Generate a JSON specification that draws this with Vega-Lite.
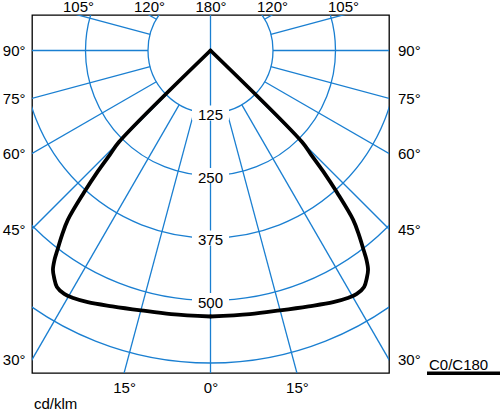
{
  "$schema": "https://vega.github.io/schema/vega-lite/v6.json",
  "width": 357,
  "height": 358,
  "autosize": "none",
  "padding": {"left": 32, "top": 15, "right": 111, "bottom": 36},
  "background": "white",
  "config": {
    "view": {"stroke": "#000", "strokeWidth": 1.3},
    "font": "Liberation Sans",
    "axis": {"grid": false, "ticks": false, "tickSize": 0, "domain": false, "labelFont": "Liberation Sans", "labelFontSize": 15, "labelColor": "#000", "labelFlush": false, "labelOverlap": false}
  },
  "datasets": {
    "circles": [{"r": 125}, {"r": 250}, {"r": 375}, {"r": 500}, {"r": 625}],
    "radials": [
      {"angle": 0, "r0": 0, "r1": 800}, {"angle": 180, "r0": 0, "r1": 800},
      {"angle": 15, "r0": 125, "r1": 800}, {"angle": -15, "r0": 125, "r1": 800},
      {"angle": 30, "r0": 125, "r1": 800}, {"angle": -30, "r0": 125, "r1": 800},
      {"angle": 45, "r0": 125, "r1": 800}, {"angle": -45, "r0": 125, "r1": 800},
      {"angle": 60, "r0": 125, "r1": 800}, {"angle": -60, "r0": 125, "r1": 800},
      {"angle": 75, "r0": 125, "r1": 800}, {"angle": -75, "r0": 125, "r1": 800},
      {"angle": 90, "r0": 125, "r1": 800}, {"angle": -90, "r0": 125, "r1": 800},
      {"angle": 105, "r0": 125, "r1": 800}, {"angle": -105, "r0": 125, "r1": 800},
      {"angle": 120, "r0": 125, "r1": 800}, {"angle": -120, "r0": 125, "r1": 800},
      {"angle": 135, "r0": 125, "r1": 800}, {"angle": -135, "r0": 125, "r1": 800},
      {"angle": 150, "r0": 125, "r1": 800}, {"angle": -150, "r0": 125, "r1": 800},
      {"angle": 165, "r0": 125, "r1": 800}, {"angle": -165, "r0": 125, "r1": 800}
    ],
    "curve": [
      {"side": "C180", "gamma": -90, "I": 0},
      {"side": "C180", "gamma": -45, "I": 259},
      {"side": "C180", "gamma": -44, "I": 290},
      {"side": "C180", "gamma": -43, "I": 330},
      {"side": "C180", "gamma": -41.7, "I": 380},
      {"side": "C180", "gamma": -40.1, "I": 443},
      {"side": "C180", "gamma": -38.8, "I": 474},
      {"side": "C180", "gamma": -37.5, "I": 503},
      {"side": "C180", "gamma": -36.7, "I": 522},
      {"side": "C180", "gamma": -35.7, "I": 540},
      {"side": "C180", "gamma": -34.5, "I": 552},
      {"side": "C180", "gamma": -33, "I": 564},
      {"side": "C180", "gamma": -31, "I": 568},
      {"side": "C180", "gamma": -29, "I": 566},
      {"side": "C180", "gamma": -26, "I": 560},
      {"side": "C180", "gamma": -21, "I": 548},
      {"side": "C180", "gamma": -15, "I": 538},
      {"side": "C180", "gamma": -8.5, "I": 533},
      {"side": "C180", "gamma": 0, "I": 532},
      {"side": "C0", "gamma": 0, "I": 532},
      {"side": "C0", "gamma": 8.5, "I": 533},
      {"side": "C0", "gamma": 15, "I": 538},
      {"side": "C0", "gamma": 21, "I": 548},
      {"side": "C0", "gamma": 26, "I": 560},
      {"side": "C0", "gamma": 29, "I": 566},
      {"side": "C0", "gamma": 31, "I": 568},
      {"side": "C0", "gamma": 33, "I": 564},
      {"side": "C0", "gamma": 34.5, "I": 552},
      {"side": "C0", "gamma": 35.7, "I": 540},
      {"side": "C0", "gamma": 36.7, "I": 522},
      {"side": "C0", "gamma": 37.5, "I": 503},
      {"side": "C0", "gamma": 38.8, "I": 474},
      {"side": "C0", "gamma": 40.1, "I": 443},
      {"side": "C0", "gamma": 41.7, "I": 380},
      {"side": "C0", "gamma": 43, "I": 330},
      {"side": "C0", "gamma": 44, "I": 290},
      {"side": "C0", "gamma": 45, "I": 259},
      {"side": "C0", "gamma": 90, "I": 0}
    ]
  },
  "resolve": {"axis": {"x": "independent", "y": "independent"}},
  "layer": [
    {
      "data": {"name": "circles"},
      "mark": {"type": "arc", "theta": 0, "theta2": 6.2832, "filled": false, "stroke": "#1a7fd1", "strokeWidth": 1.3, "clip": true},
      "encoding": {
        "x": {"datum": 0, "type": "quantitative", "scale": {"domain": [-357, 357], "nice": false, "zero": false}, "axis": null},
        "y": {"datum": 0, "type": "quantitative", "scale": {"domain": [-645, 71], "nice": false, "zero": false}, "axis": null},
        "radius": {"field": "r", "type": "quantitative", "stack": null, "scale": {"type": "linear", "domain": [0, 714], "range": [0, 357], "zero": true, "nice": false}}
      }
    },
    {
      "data": {"name": "radials"},
      "transform": [
        {"calculate": "datum.r0*sin(datum.angle*PI/180)", "as": "xa"},
        {"calculate": "-datum.r0*cos(datum.angle*PI/180)", "as": "ya"},
        {"calculate": "datum.r1*sin(datum.angle*PI/180)", "as": "xb"},
        {"calculate": "-datum.r1*cos(datum.angle*PI/180)", "as": "yb"}
      ],
      "mark": {"type": "rule", "stroke": "#1a7fd1", "strokeWidth": 1.3, "clip": true},
      "encoding": {
        "x": {"field": "xa", "type": "quantitative", "scale": {"domain": [-357, 357], "nice": false, "zero": false},
          "axis": {"orient": "top", "title": null, "values": [-264.97, -122.97, 0, 122.97, 264.97],
            "labelExpr": "abs(datum.value) > 200 ? '105°' : abs(datum.value) > 50 ? '120°' : '180°'",
            "labelPadding": 4, "labelBaseline": "alphabetic"}},
        "x2": {"field": "xb"},
        "y": {"field": "ya", "type": "quantitative", "scale": {"domain": [-645, 71], "nice": false, "zero": false},
          "axis": {"orient": "left", "title": null, "values": [0, -95.66, -206.11, -357, -618.34],
            "labelExpr": "datum.value > -50 ? '90°' : datum.value > -150 ? '75°' : datum.value > -300 ? '60°' : datum.value > -500 ? '45°' : '30°'",
            "labelPadding": 7}},
        "y2": {"field": "yb"}
      }
    },
    {
      "data": {"name": "circles"},
      "transform": [{"filter": "datum.r <= 500"}, {"calculate": "-datum.r", "as": "yl"}],
      "mark": {"type": "point", "shape": "M-1,-0.4L1,-0.4L1,0.4L-1,0.4Z", "size": 1369, "filled": true, "fill": "white", "opacity": 1, "strokeWidth": 0},
      "encoding": {
        "x": {"datum": 0, "type": "quantitative", "axis": null},
        "y": {"field": "yl", "type": "quantitative", "axis": null}
      }
    },
    {
      "data": {"name": "circles"},
      "transform": [{"filter": "datum.r <= 500"}, {"calculate": "-datum.r", "as": "yl"}],
      "mark": {"type": "text", "font": "Liberation Sans", "fontSize": 15, "color": "#000", "align": "center", "baseline": "middle", "dy": 2},
      "encoding": {
        "x": {"datum": 0, "type": "quantitative", "axis": null},
        "y": {"field": "yl", "type": "quantitative", "axis": null},
        "text": {"field": "r", "type": "quantitative"}
      }
    },
    {
      "data": {"name": "curve"},
      "transform": [
        {"calculate": "datum.I*sin(datum.gamma*PI/180)", "as": "cx"},
        {"calculate": "-datum.I*cos(datum.gamma*PI/180)", "as": "cy"}
      ],
      "mark": {"type": "line", "interpolate": "catmull-rom", "strokeWidth": 3.8, "strokeJoin": "round", "strokeCap": "round"},
      "encoding": {
        "x": {"field": "cx", "type": "quantitative", "scale": {"domain": [-357, 357], "nice": false, "zero": false},
          "axis": {"orient": "bottom", "values": [-172.83, 0, 172.83],
            "labelExpr": "datum.value == 0 ? '0°' : '15°'",
            "labelPadding": 19.5, "labelBaseline": "alphabetic",
            "title": "cd/klm", "titleFont": "Liberation Sans", "titleFontSize": 15, "titleFontWeight": "normal", "titleColor": "#000",
            "titleAnchor": "start", "titleAlign": "left", "titleBaseline": "alphabetic", "titleX": 1.5, "titleY": 35.5}},
        "y": {"field": "cy", "type": "quantitative", "scale": {"domain": [-645, 71], "nice": false, "zero": false},
          "axis": {"orient": "right", "title": null, "values": [0, -95.66, -206.11, -357, -618.34],
            "labelExpr": "datum.value > -50 ? '90°' : datum.value > -150 ? '75°' : datum.value > -300 ? '60°' : datum.value > -500 ? '45°' : '30°'",
            "labelPadding": 8.5}},
        "order": {"field": "gamma", "type": "quantitative"},
        "detail": {"field": "side", "type": "nominal"},
        "stroke": {"datum": "C0/C180", "type": "nominal", "scale": {"range": ["#000"]},
          "legend": {"title": null, "orient": "none", "legendX": 393, "legendY": 319.7, "padding": 0,
            "symbolType": "stroke", "symbolSize": 5329, "symbolStrokeWidth": 3.5,
            "labelOffset": -73, "labelBaseline": "bottom", "labelAlign": "left",
            "labelFont": "Liberation Sans", "labelFontSize": 15, "labelColor": "#000", "labelLimit": 0}}
      }
    }
  ]
}
